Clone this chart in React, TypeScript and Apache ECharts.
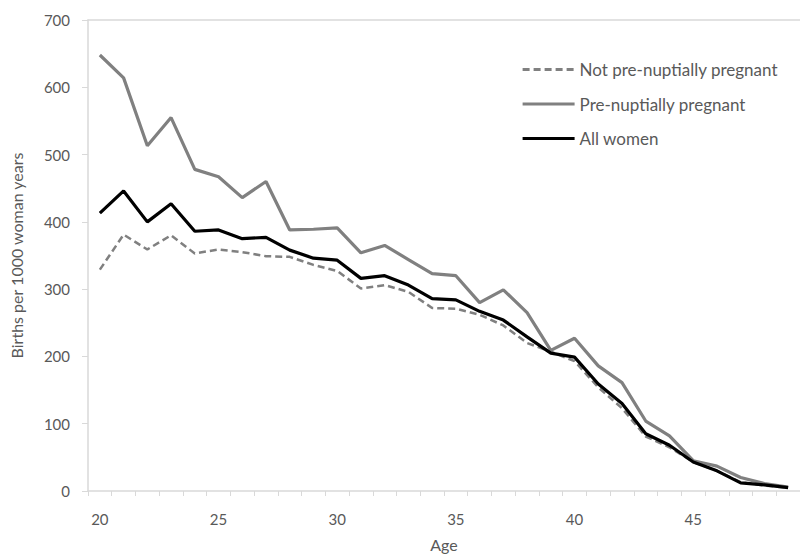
import React, { useEffect, useRef } from "react";
import * as echarts from "echarts";

const ages: string[] = [
  "20","21","22","23","24","25","26","27","28","29",
  "30","31","32","33","34","35","36","37","38","39",
  "40","41","42","43","44","45","46","47","48","49",
];

const notPregnant: number[] = [
  329, 381, 359, 380, 353, 359, 355, 349, 348, 336,
  327, 301, 306, 296, 272, 271, 262, 246, 220, 207,
  193, 154, 123, 81, 65, 43, 30, 13, 8, 5,
];

const pregnant: number[] = [
  648, 614, 513, 555, 478, 467, 436, 460, 388, 389,
  391, 354, 365, 344, 323, 320, 280, 299, 265, 209,
  227, 186, 161, 104, 82, 45, 37, 20, 11, 6,
];

const allWomen: number[] = [
  413, 446, 400, 427, 386, 388, 375, 377, 358, 346,
  343, 316, 320, 306, 286, 284, 267, 254, 229, 205,
  199, 159, 130, 85, 68, 43, 30, 12, 9, 5,
];

const FONT = "Lato, 'Open Sans', sans-serif";
const TEXT = "#595959";
const AXIS = "#d9d9d9";

export default function App() {
  const ref = useRef<HTMLDivElement>(null);
  useEffect(() => {
    if (!ref.current) return;
    const chart = echarts.init(ref.current, null, { renderer: "svg" });
    chart.setOption({
      animation: false,
      backgroundColor: "#ffffff",
      textStyle: { fontFamily: FONT },
      grid: { left: 85, top: 20, width: 720, bottom: 65 },
      legend: {
        orient: "vertical",
        left: 516,
        top: 56,
        itemWidth: 52,
        itemHeight: 14,
        itemGap: 17.5,
        itemStyle: { opacity: 0 },
        lineStyle: { width: 3.2 },
        textStyle: { color: TEXT, fontSize: 17, fontFamily: FONT },
        data: ["Not pre-nuptially pregnant", "Pre-nuptially pregnant", "All women"],
      },
      xAxis: [
        {
          type: "category",
          data: ages,
          boundaryGap: true,
          name: "Age",
          nameLocation: "middle",
          nameGap: 45,
          nameTextStyle: { color: TEXT, fontSize: 16, fontFamily: FONT },
          axisLine: { lineStyle: { color: AXIS, width: 1.5 } },
          axisTick: { show: true, interval: 0, length: 5, lineStyle: { color: AXIS } },
          axisLabel: { interval: 4, margin: 20, color: TEXT, fontSize: 15, fontFamily: FONT },
          splitLine: { show: false },
        },
        {
          type: "category",
          data: ages,
          position: "top",
          axisLine: { show: true, lineStyle: { color: AXIS, width: 1.5 } },
          axisTick: { show: false },
          axisLabel: { show: false },
          splitLine: { show: false },
        },
      ],
      yAxis: {
        type: "value",
        min: 0,
        max: 700,
        interval: 100,
        name: "Births per 1000 woman years",
        nameLocation: "middle",
        nameGap: 64,
        nameTextStyle: { color: TEXT, fontSize: 16, fontFamily: FONT },
        axisLine: { show: true, lineStyle: { color: AXIS, width: 1.5 } },
        axisTick: { show: true, length: 6, lineStyle: { color: AXIS } },
        axisLabel: { margin: 18, color: TEXT, fontSize: 15, fontFamily: FONT },
        splitLine: { show: false },
      },
      series: [
        {
          name: "Not pre-nuptially pregnant",
          type: "line",
          data: notPregnant,
          symbol: "none",
          itemStyle: { color: "#808080" },
          lineStyle: { color: "#808080", width: 2.5, type: [7, 4] },
          z: 2,
        },
        {
          name: "Pre-nuptially pregnant",
          type: "line",
          data: pregnant,
          symbol: "none",
          itemStyle: { color: "#808080" },
          lineStyle: { color: "#808080", width: 3.2 },
          z: 3,
        },
        {
          name: "All women",
          type: "line",
          data: allWomen,
          symbol: "none",
          itemStyle: { color: "#000000" },
          lineStyle: { color: "#000000", width: 3.2 },
          z: 4,
        },
      ],
    });
    return () => chart.dispose();
  }, []);
  return <div ref={ref} style={{ width: 800, height: 557, position: "absolute", left: 0, top: 0 }} />;
}
